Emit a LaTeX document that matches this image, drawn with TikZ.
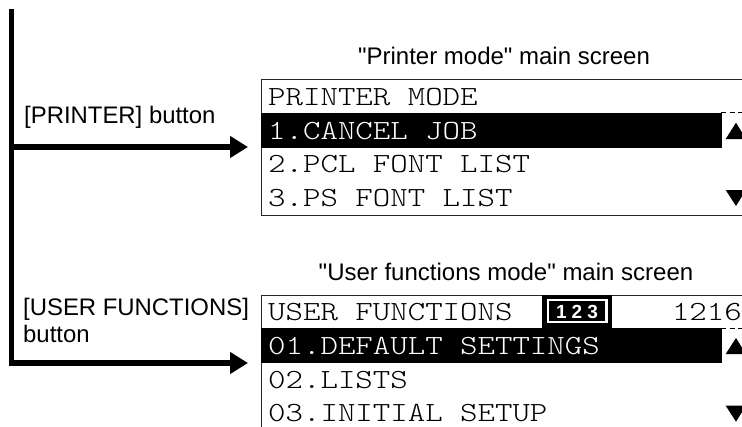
\documentclass[tikz,border=0pt]{standalone}
\usepackage{fontspec}
\setmainfont[Ligatures=TeXOff]{Liberation Sans}
\setmonofont[FakeStretch=1.2]{Latin Modern Mono Light}
\usetikzlibrary{arrows.meta}

\tikzset{
    screenbox/.style={draw=black!85, line width=0.9, minimum width=490, anchor=north west, inner sep=0},
    band/.style={fill=black, minimum width=461, minimum height=35, anchor=north west, inner sep=0},
    lcdline/.style={anchor=base west, inner sep=0, font=\fontsize{27.7}{30}\ttfamily},
    lcdinverse/.style={lcdline, text=white},
    caption/.style={anchor=base, inner sep=0, font=\fontsize{24}{26}\selectfont},
    buttonlabel/.style={anchor=base west, inner sep=0, font=\fontsize{23.9}{26}\selectfont},
    rail/.style={line width=5.5, line cap=butt},
    railarrow/.style={rail, -{Triangle[length=18, width=21]}},
    scrollmark/.style={fill=black, draw=none},
    sepdash/.style={dash pattern=on 5pt off 3.5pt, line width=0.9}
}

\begin{document}
\begin{tikzpicture}[x=1pt, y=-1pt]

    % Fix the page to the size of the reference
    \useasboundingbox (0,0) rectangle (742,426);
    \clip (0,0) rectangle (742,426);

    % The black rail on the left and its two arrows
    \coordinate (railtop) at (11.7,9);
    \coordinate (railmid) at (11.7,147);
    \coordinate (railend) at (11.7,363);
    \coordinate (printertip) at (248,147);
    \coordinate (usertip) at (248,363);
    \draw[rail] (railtop) -- ([yshift=-2.75]railend);
    \draw[railarrow] (railmid) -- (printertip);
    \draw[railarrow] ([xshift=-2.75]railend) -- (usertip);

    % Button labels
    \node[buttonlabel] (printerbutton) at (24,123) {[PRINTER] button};
    \node[buttonlabel] (userbutton) at (23,315.7) {[USER FUNCTIONS]};
    \node[buttonlabel] (userbuttonb) at (23,342) {button};

    % Printer mode screen
    \node[caption] (printercaption) at (504,64) {"Printer mode" main screen};
    \node[screenbox, minimum height=136] (printerscreen) at (260.5,79.3) {};
    \node[band] (printerband) at (260.5,112.7) {};
    \draw[sepdash] (721,112.5) -- (742,112.5);
    \node[lcdline] (printerrowa) at (268,105) {PRINTER MODE};
    \node[lcdinverse] (printerrowb) at (268,139) {1.CANCEL JOB};
    \node[lcdline] (printerrowc) at (268,172.7) {2.PCL FONT LIST};
    \node[lcdline] (printerrowd) at (268,206.7) {3.PS FONT LIST};
    \fill[scrollmark] (725.7,139) -- (746,139) -- (736,122.7) -- cycle;
    \fill[scrollmark] (725.7,190) -- (746,190) -- (736,206) -- cycle;

    % User functions mode screen
    \node[caption] (usercaption) at (506,280) {"User functions mode" main screen};
    \node[screenbox, minimum height=150] (userscreen) at (260.5,295) {};
    \node[band] (userband) at (260.5,327.7) {};
    \draw[sepdash] (721,328) -- (742,328);
    \node[lcdline] (userrowa) at (268,320) {USER FUNCTIONS};
    \node[lcdinverse] (userrowb) at (268,354) {01.DEFAULT SETTINGS};
    \node[lcdline] (userrowc) at (268,388) {02.LISTS};
    \node[lcdline] (userrowd) at (268,421.5) {03.INITIAL SETUP};
    \node[lcdline, anchor=base east] (usercount) at (742,320) {1216};
    \fill[scrollmark] (725.7,354) -- (746,354) -- (736,338) -- cycle;
    \fill[scrollmark] (725.7,405.7) -- (746,405.7) -- (736,421.7) -- cycle;

    % The small 123 badge in the title row
    \fill[black] (542,295) rectangle (612,328);
    \draw[white, line width=2.5] (547.8,299.8) rectangle (606.5,322);
    \node[anchor=base, inner sep=0, text=white, font=\fontsize{19}{20}\bfseries] (userbadge) at (577,318) {1\hspace{5pt}2\hspace{5pt}3};

\end{tikzpicture}
\end{document}
